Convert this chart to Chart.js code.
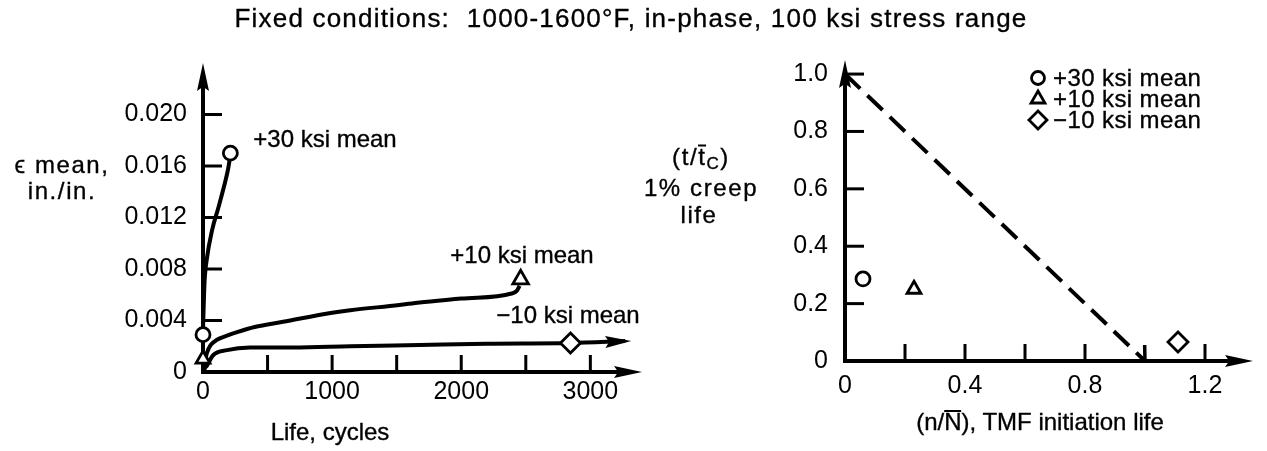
<!DOCTYPE html>
<html>
<head>
<meta charset="utf-8">
<script src="https://cdn.jsdelivr.net/npm/chart.js@4.4.0/dist/chart.umd.min.js"></script>
<style>
  body { margin: 0; background: #fff; }
  #wrap { position: relative; width: 1267px; height: 451px; overflow: hidden;
          font-family: "Liberation Sans", Arial, sans-serif; color: #000; }
  .box { position: absolute; top: 0; height: 451px; }
  .lbl, .leg { position: absolute; white-space: nowrap; font-size: 24px; line-height: 1;
               -webkit-text-stroke: 0.35px #000; }
  .lbl { transform: translate(-50%, -50%); }
  .leg { transform: translate(0, -50%); letter-spacing: 0.4px; }
  .title { font-size: 26px; letter-spacing: 1.2px; }
  .wide { letter-spacing: 1.6px; }
  .bar { display: inline-block; border-top: 2px solid #000; line-height: 0.85; }
  sub { font-size: 17px; vertical-align: -4px; }
</style>
</head>
<body>
<div id="wrap">
  <div class="box" style="left:0;width:660px"><canvas id="leftChart"></canvas></div>
  <div class="box" style="left:660px;width:607px"><canvas id="rightChart"></canvas></div>

  <div class="lbl title" style="left:631px;top:18px">Fixed conditions:&nbsp; 1000-1600°F, in-phase, 100 ksi stress range</div>

  <div class="lbl wide" style="left:62px;top:165px">ϵ mean,</div>
  <div class="lbl wide" style="left:62px;top:191px">in./in.</div>
  <div class="lbl" style="left:325px;top:139px">+30 ksi mean</div>
  <div class="lbl" style="left:522px;top:255px">+10 ksi mean</div>
  <div class="lbl" style="left:568px;top:315px">−10 ksi mean</div>
  <div class="lbl" style="left:330px;top:432px">Life, cycles</div>

  <div class="lbl wide" style="left:701px;top:158px">(t/<span class="bar">t</span><sub>C</sub>)</div>
  <div class="lbl wide" style="left:701px;top:188px">1% creep</div>
  <div class="lbl wide" style="left:699px;top:215px">life</div>
  <div class="lbl" style="left:1040px;top:422px">(n/<span class="bar">N</span>), TMF initiation life</div>

  <div class="leg" style="left:1053px;top:78px">+30 ksi mean</div>
  <div class="leg" style="left:1053px;top:99px">+10 ksi mean</div>
  <div class="leg" style="left:1053px;top:120px">−10 ksi mean</div>
</div>

<script>
// ==========================
// Left panel: mean strain vs life
// ==========================
const lifeLabels = [0, 1000, 2000, 3000];
const lifeMarks = [500, 1000, 1500, 2000, 2500, 3000];
const strainLabels = [0, 0.004, 0.008, 0.012, 0.016, 0.020];
const strainMarks = [0.004, 0.008, 0.012, 0.016, 0.020];

const plus30Life = [0, 5, 12, 30, 70, 120, 165, 195, 208];
const plus30Strain = [0.0033, 0.0050, 0.0070, 0.0088, 0.0110, 0.0128, 0.0145, 0.0158, 0.0166];

const plus10Life = [0, 15, 31, 60, 108, 180, 264, 400, 620, 1000, 1140, 1520, 1677, 2000, 2390, 2430, 2452];
const plus10Strain = [0, 0.0008, 0.0015, 0.0021, 0.0025, 0.0028, 0.0031, 0.0035, 0.0039, 0.0046, 0.0048, 0.0052, 0.0054, 0.0057, 0.0061, 0.0063, 0.0067];

const minus10Life = [0, 15, 31, 78, 186, 364, 700, 1140, 1677, 2200, 2846, 3270];
const minus10Strain = [0, 0.0003, 0.0005, 0.0013, 0.0017, 0.0019, 0.0019, 0.0020, 0.0021, 0.0022, 0.00225, 0.0024];

// open symbols: start points on the axis and end points of each curve
const startLife = [0, 0];
const startStrain = [0.0029, 0.0010];
const endLife = [212, 2460, 2846];
const endStrain = [0.0170, 0.0072, 0.00225];

// ==========================
// Right panel: creep vs fatigue fraction
// ==========================
const fatigueLabels = [0, 0.4, 0.8, 1.2];
const fatigueMarks = [0.2, 0.4, 0.6, 0.8, 1.2];
const creepLabels = [0, 0.2, 0.4, 0.6, 0.8, 1.0];
const creepMarks = [0.2, 0.4, 0.6, 0.8, 1.0];

const seriesNames = ['+30 ksi mean', '+10 ksi mean', '−10 ksi mean'];
const seriesStyles = ['circle', 'triangle', 'rectRot'];
const fatigueFrac = [0.06, 0.23, 1.11];
const creepFrac = [0.286, 0.25, 0.066];
const sumLineFatigue = [0, 1.0];
const sumLineCreep = [1.0, 0];

const FONT = { family: '"Liberation Sans", Arial, sans-serif', size: 25 };
const INK = '#000';

function pts(xs, ys) {
    return xs.map((v, i) => ({ x: v, y: ys[i] }));
}

function line(ctx, x1, y1, x2, y2) {
    ctx.beginPath();
    ctx.moveTo(x1, y1);
    ctx.lineTo(x2, y2);
    ctx.stroke();
}

// filled arrow head with tip at (x, y) pointing along angle
function arrowHead(ctx, x, y, angle, len, half) {
    ctx.save();
    ctx.translate(x, y);
    ctx.rotate(angle);
    ctx.beginPath();
    ctx.moveTo(0, 0);
    ctx.lineTo(-len, -half);
    ctx.lineTo(-len * 0.85, 0);
    ctx.lineTo(-len, half);
    ctx.closePath();
    ctx.fill();
    ctx.restore();
}

// fixed axis size, no extra room for overhanging labels
function fixedAxis(size, horizontal) {
    return scale => {
        if (horizontal) {
            scale.height = size;
            scale.paddingLeft = 0;
            scale.paddingRight = 0;
        } else {
            scale.width = size;
            scale.paddingTop = 0;
            scale.paddingBottom = 0;
        }
    };
}

function setTicks(values) {
    return scale => { scale.ticks = values.map(v => ({ value: v })); };
}

// axes with arrows and inward tick marks, drawn under the data
const axesPlugin = {
    id: 'axesPlugin',
    beforeDatasetsDraw(chart, args, opts) {
        const { ctx, chartArea: a, scales: { x, y } } = chart;
        const x0 = x.getPixelForValue(0);
        const y0 = y.getPixelForValue(0);
        ctx.save();
        ctx.strokeStyle = INK;
        ctx.fillStyle = INK;
        ctx.lineWidth = 4;
        line(ctx, x0, y0 + 2, x0, a.top + 20);
        arrowHead(ctx, x0, a.top, -Math.PI / 2, 28, 6);
        line(ctx, x0 - 2, y0, a.right - 20, y0);
        arrowHead(ctx, a.right, y0, 0, 28, 6);
        ctx.lineWidth = 3;
        opts.xMarks.forEach(v => {
            const px = x.getPixelForValue(v);
            line(ctx, px, y0, px, y0 - opts.markLen);
        });
        opts.yMarks.forEach(v => {
            const py = y.getPixelForValue(v);
            line(ctx, x0, py, x0 + opts.markLen + 2, py);
        });
        ctx.restore();
    }
};

// arrow at the end of the -10 ksi curve
const curveArrow = {
    id: 'curveArrow',
    afterDatasetsDraw(chart, args, opts) {
        if (opts.dataset == null) return;
        const meta = chart.getDatasetMeta(opts.dataset);
        const n = meta.data.length;
        const p = meta.data[n - 1], q = meta.data[n - 2];
        const ang = Math.atan2(p.y - q.y, p.x - q.x);
        chart.ctx.save();
        chart.ctx.fillStyle = INK;
        arrowHead(chart.ctx, p.x + 6, p.y, ang, 26, 6);
        chart.ctx.restore();
    }
};

// open chevron at the end of the dashed line, and legend symbols
const sumLineEnd = {
    id: 'sumLineEnd',
    afterDatasetsDraw(chart, args, opts) {
        if (opts.dataset == null) return;
        const { ctx } = chart;
        const meta = chart.getDatasetMeta(opts.dataset);
        const p = meta.data[1], q = meta.data[0];
        const back = Math.atan2(q.y - p.y, q.x - p.x);
        ctx.save();
        ctx.strokeStyle = INK;
        ctx.lineWidth = 3.5;
        [-Math.PI / 4, Math.PI / 4].forEach(d => {
            line(ctx, p.x, p.y, p.x + 16 * Math.cos(back + d), p.y + 16 * Math.sin(back + d));
        });
        // legend symbols
        ctx.lineWidth = 2.8;
        ctx.fillStyle = '#fff';
        opts.legendRows.forEach((yy, i) => {
            Chart.helpers.drawPoint(ctx, {
                pointStyle: seriesStyles[i], radius: [6.5, 8, 9][i], borderWidth: 2.8
            }, opts.legendX, yy);
        });
        ctx.restore();
    }
};

const markerBase = {
    showLine: false,
    borderColor: INK,
    backgroundColor: '#fff',
    pointBorderWidth: 2.8,
    clip: false,
    order: 0
};

const curveBase = {
    showLine: true,
    borderColor: INK,
    borderWidth: 4,
    pointRadius: 0,
    cubicInterpolationMode: 'monotone',
    fill: false,
    clip: false,
    order: 1
};

// ==========================
// Left chart
// ==========================
new Chart(document.getElementById('leftChart'), {
    type: 'scatter',
    data: {
        datasets: [
            { ...curveBase, label: '+30', data: pts(plus30Life, plus30Strain) },
            { ...curveBase, label: '+10', data: pts(plus10Life, plus10Strain) },
            { ...curveBase, label: '-10', data: pts(minus10Life, minus10Strain) },
            { ...markerBase, label: 'start', data: pts(startLife, startStrain),
              pointStyle: ['circle', 'triangle'], pointRadius: [7, 8] },
            { ...markerBase, label: 'end', data: pts(endLife, endStrain),
              pointStyle: seriesStyles, pointRadius: [7, 9, 10] }
        ]
    },
    options: {
        responsive: true,
        maintainAspectRatio: false,
        animation: false,
        layout: { padding: { left: 83, right: 18, top: 63, bottom: 39 } },
        plugins: {
            legend: { display: false },
            tooltip: { enabled: false },
            axesPlugin: { xMarks: lifeMarks, yMarks: strainMarks, markLen: 17 },
            curveArrow: { dataset: 2 },
            sumLineEnd: { dataset: null }
        },
        scales: {
            x: {
                type: 'linear', min: 0, max: 3400,
                afterFit: fixedAxis(40, true),
                afterBuildTicks: setTicks(lifeLabels),
                grid: { display: false, drawTicks: false },
                border: { display: false },
                ticks: { color: INK, font: FONT, padding: 5, maxRotation: 0,
                         callback: v => String(v) }
            },
            y: {
                type: 'linear', min: 0, max: 0.024,
                afterFit: fixedAxis(120, false),
                afterBuildTicks: setTicks(strainLabels),
                grid: { display: false, drawTicks: false },
                border: { display: false },
                ticks: { color: INK, font: FONT, padding: 16,
                         callback: v => v === 0 ? '0' : v.toFixed(3) }
            }
        }
    },
    plugins: [axesPlugin, curveArrow, sumLineEnd]
});

// ==========================
// Right chart
// ==========================
const rightSets = seriesNames.map((name, i) => ({
    ...markerBase,
    label: name,
    data: [{ x: fatigueFrac[i], y: creepFrac[i] }],
    pointStyle: seriesStyles[i],
    pointRadius: [7, 8, 10][i]
}));
rightSets.push({
    ...curveBase,
    label: 'sum',
    cubicInterpolationMode: 'default',
    tension: 0,
    borderDash: [21, 10],
    data: pts(sumLineFatigue, sumLineCreep)
});

new Chart(document.getElementById('rightChart'), {
    type: 'scatter',
    data: { datasets: rightSets },
    options: {
        responsive: true,
        maintainAspectRatio: false,
        animation: false,
        layout: { padding: { left: 85, right: 14, top: 60, bottom: 50 } },
        plugins: {
            legend: { display: false },
            tooltip: { enabled: false },
            axesPlugin: { xMarks: fatigueMarks, yMarks: creepMarks, markLen: 17 },
            curveArrow: { dataset: null },
            sumLineEnd: { dataset: 3, legendX: 378, legendRows: [78, 99, 120] }
        },
        scales: {
            x: {
                type: 'linear', min: 0, max: 1.36,
                afterFit: fixedAxis(40, true),
                afterBuildTicks: setTicks(fatigueLabels),
                grid: { display: false, drawTicks: false },
                border: { display: false },
                ticks: { color: INK, font: FONT, padding: 10, maxRotation: 0,
                         callback: v => v === 0 ? '0' : v.toFixed(1) }
            },
            y: {
                type: 'linear', min: 0, max: 1.049,
                afterFit: fixedAxis(100, false),
                afterBuildTicks: setTicks(creepLabels),
                grid: { display: false, drawTicks: false },
                border: { display: false },
                ticks: { color: INK, font: FONT, padding: 17,
                         callback: v => v === 0 ? '0' : v.toFixed(1) }
            }
        }
    },
    plugins: [axesPlugin, curveArrow, sumLineEnd]
});
</script>
</body>
</html>
